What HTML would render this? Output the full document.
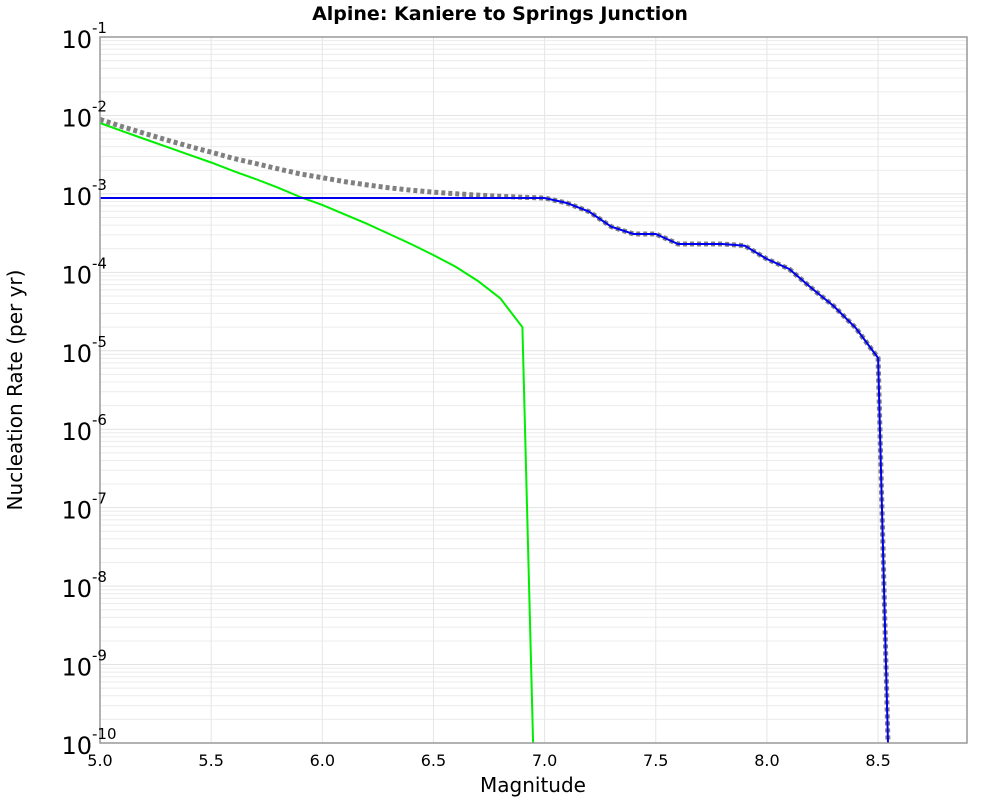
<!DOCTYPE html>
<html><head><meta charset="utf-8"><style>
body{margin:0;background:#fff;font-family:"DejaVu Sans","Liberation Sans",sans-serif}
</style></head><body>
<svg id="chart" width="1000" height="800" xmlns="http://www.w3.org/2000/svg">
<text x="500" y="20" text-anchor="middle" font-size="19" font-weight="bold" font-family="DejaVu Sans, sans-serif">Alpine: Kaniere to Springs Junction</text>
<g id="grid"></g>
<g id="series"></g>
<rect x="100" y="37" width="867" height="706" fill="none" stroke="#999" stroke-width="1.5"/>
<g id="ticks"></g>
<text x="533" y="792" text-anchor="middle" font-size="20" font-family="DejaVu Sans, sans-serif">Magnitude</text>
<text transform="translate(22,390) rotate(-90)" text-anchor="middle" font-size="20" font-family="DejaVu Sans, sans-serif">Nucleation Rate (per yr)</text>
</svg>
<script>
const xTicks=[5.0,5.5,6.0,6.5,7.0,7.5,8.0,8.5];
const yDecades=[-1,-2,-3,-4,-5,-6,-7,-8,-9,-10];
const magsGreen=[5.0,5.1,5.2,5.3,5.4,5.5,5.6,5.7,5.8,5.9,6.0,6.1,6.2,6.3,6.4,6.5,6.6,6.7,6.8,6.9,6.95];
const logGreen=[-2.096,-2.2,-2.3,-2.4,-2.5,-2.6,-2.71,-2.81,-2.92,-3.04,-3.14,-3.26,-3.38,-3.51,-3.64,-3.78,-3.93,-4.11,-4.33,-4.70,-10.2];
const magsBlue=[5.0,7.0,7.1,7.2,7.3,7.4,7.5,7.6,7.7,7.8,7.9,8.0,8.1,8.2,8.3,8.4,8.5,8.55];
const logBlue=[-3.053,-3.053,-3.116,-3.227,-3.418,-3.511,-3.511,-3.639,-3.639,-3.639,-3.661,-3.830,-3.958,-4.200,-4.429,-4.710,-5.092,-10.6];
const magsTotal=[5.0,5.1,5.2,5.3,5.4,5.5,5.6,5.7,5.8,5.9,6.0,6.1,6.2,6.3,6.4,6.5,6.6,6.7,6.8,6.9,7.0,7.1,7.2,7.3,7.4,7.5,7.6,7.7,7.8,7.9,8.0,8.1,8.2,8.3,8.4,8.5,8.55];
const logTotal=[-2.05,-2.143,-2.229,-2.313,-2.393,-2.469,-2.548,-2.613,-2.680,-2.745,-2.793,-2.843,-2.886,-2.923,-2.953,-2.978,-2.999,-3.016,-3.031,-3.043,-3.053,-3.116,-3.227,-3.418,-3.511,-3.511,-3.639,-3.639,-3.639,-3.661,-3.830,-3.958,-4.200,-4.429,-4.710,-5.092,-10.6];
const NS="http://www.w3.org/2000/svg";
const X0=100,X1=967,Y0=37,Y1=743,XMIN=5.0,XMAX=8.9;
function xs(m){return X0+(m-XMIN)/(XMAX-XMIN)*(X1-X0);}
function ys(l){return Y0+(-1-l)/9*(Y1-Y0);}
function mk(t,a,p){const e=document.createElementNS(NS,t);for(const k in a)e.setAttribute(k,a[k]);p.appendChild(e);return e;}
const grid=document.getElementById('grid'),ticks=document.getElementById('ticks'),ser=document.getElementById('series');
for(let d=-10;d<-1;d++){for(let k=2;k<=9;k++){const y=ys(d+Math.log10(k));
const l=mk('line',{x1:X0,x2:X1,y1:y,y2:y,stroke:'#ececec','stroke-width':1},grid);

}}
yDecades.forEach(d=>{const y=ys(d);
const l=mk('line',{x1:X0,x2:X1,y1:y,y2:y,stroke:'#e2e2e2','stroke-width':1},grid);


const t=mk('text',{x:92,y:y+11,'text-anchor':'end','font-size':24},ticks);


t.textContent='10';
const s=mk('text',{x:92,y:y-4,'font-size':15},ticks);


s.textContent=String(d);});
xTicks.forEach(m=>{const x=xs(m);
const l=mk('line',{x1:x,x2:x,y1:Y0,y2:Y1,stroke:'#e6e6e6','stroke-width':1},grid);


const t=mk('text',{x:x,y:766,'text-anchor':'middle','font-size':16},ticks);


t.textContent=m.toFixed(1);});
const cp=mk('clipPath',{id:'cp'},document.getElementById('chart'));
mk('rect',{x:X0,y:Y0,width:X1-X0,height:Y1-Y0},cp);
ser.setAttribute('clip-path','url(#cp)');
function pts(ms,ls){return ms.map((m,i)=>xs(m).toFixed(1)+','+ys(ls[i]).toFixed(1)).join(' ');}
const g=mk('polyline',{points:pts(magsTotal,logTotal),fill:'none',stroke:'#808080','stroke-width':5,'stroke-dasharray':'4,3'},ser);


const gr=mk('polyline',{points:pts(magsGreen,logGreen),fill:'none',stroke:'#00ee00','stroke-width':2},ser);


const b=mk('polyline',{points:pts(magsBlue,logBlue),fill:'none',stroke:'#0000ee','stroke-width':2},ser);


</script>
</body></html>
